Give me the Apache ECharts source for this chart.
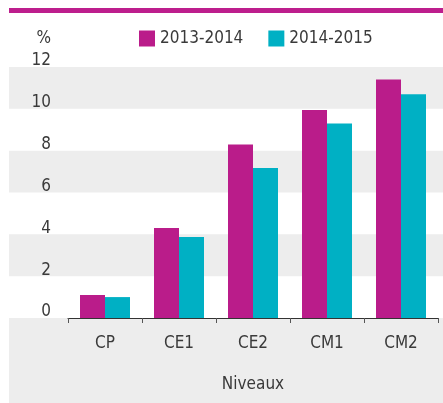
<!DOCTYPE html>
<html>
<head>
<meta charset="utf-8">
<style>
html,body{margin:0;padding:0;background:#fff;}
#c{width:443px;height:403px;}
</style>
<script src="https://cdn.jsdelivr.net/npm/echarts@6/dist/echarts.min.js"></script>
</head>
<body>
<div id="c"></div>
<script>
var categories = ['CP', 'CE1', 'CE2', 'CM1', 'CM2'];
var seriesNames = ['2013-2014', '2014-2015'];
var values2013 = [1.1, 4.3, 8.3, 9.95, 11.4];
var values2014 = [1.0, 3.87, 7.17, 9.3, 10.7];
var yTicks = [0, 2, 4, 6, 8, 10, 12];

var FONT = "'Liberation Sans Narrow', 'DejaVu Sans Condensed', 'Liberation Sans', sans-serif";
var TXT = '#3a3a3a';

var chart = echarts.init(document.getElementById('c'), null, {renderer: 'canvas'});
chart.setOption({
  animation: false,
  backgroundColor: '#ffffff',
  textStyle: {fontFamily: FONT},
  graphic: [
    {type: 'rect', left: 9, top: 8, shape: {width: 434, height: 5}, style: {fill: '#BD1E8D'}, z: 0},
    {type: 'rect', left: 9, top: 318, shape: {width: 434, height: 85}, style: {fill: '#EDEDED'}, z: -1}
  ],
  legend: {
    data: seriesNames,
    left: 139, top: 30, padding: 0,
    icon: 'rect', itemWidth: 16, itemHeight: 16, itemGap: 25,
    textStyle: {fontFamily: FONT, fontSize: 17, color: TXT, lineHeight: 16, padding: [0, 0, 0, 0]}
  },
  grid: [
    {left: 68, right: 5, top: 67, bottom: 85, containLabel: false},
    {left: 9, right: 0, top: 67, bottom: 85, containLabel: false}
  ],
  xAxis: [
    {
      type: 'category', gridIndex: 0, data: categories,
      axisLine: {show: true, lineStyle: {color: '#333', width: 1}},
      axisTick: {show: true, length: 5, lineStyle: {color: '#555'}},
      axisLabel: {fontFamily: FONT, fontSize: 17, color: TXT, margin: 17},
      name: 'Niveaux', nameLocation: 'middle', nameGap: 58,
      nameTextStyle: {fontFamily: FONT, fontSize: 17, color: TXT}
    },
    {type: 'category', gridIndex: 1, data: categories, show: false}
  ],
  yAxis: [
    {
      type: 'value', gridIndex: 0, min: yTicks[0], max: yTicks[yTicks.length - 1], interval: 2,
      axisLine: {show: false}, axisTick: {show: false},
      splitLine: {show: false},
      axisLabel: {fontFamily: FONT, fontSize: 17, color: TXT, margin: 17, verticalAlign: 'bottom', lineHeight: 12},
      name: '%', nameLocation: 'end', nameGap: 20,
      nameTextStyle: {fontFamily: FONT, fontSize: 17, color: TXT, align: 'right', verticalAlign: 'bottom', padding: [0, 17, 0, 0]}
    },
    {
      type: 'value', gridIndex: 1, min: yTicks[0], max: yTicks[yTicks.length - 1], interval: 2,
      axisLine: {show: false}, axisTick: {show: false}, axisLabel: {show: false},
      splitLine: {show: false},
      splitArea: {show: true, areaStyle: {color: ['rgba(0,0,0,0)', '#EDEDED']}}
    }
  ],
  series: [
    {
      name: seriesNames[0], type: 'bar', xAxisIndex: 0, yAxisIndex: 0,
      data: values2013, barWidth: 25, barGap: '0%',
      itemStyle: {color: '#BA1C8A'}, z: 3
    },
    {
      name: seriesNames[1], type: 'bar', xAxisIndex: 0, yAxisIndex: 0,
      data: values2014, barWidth: 25, barGap: '0%',
      itemStyle: {color: '#00B0C4'}, z: 3
    }
  ]
});
</script>
</body>
</html>
